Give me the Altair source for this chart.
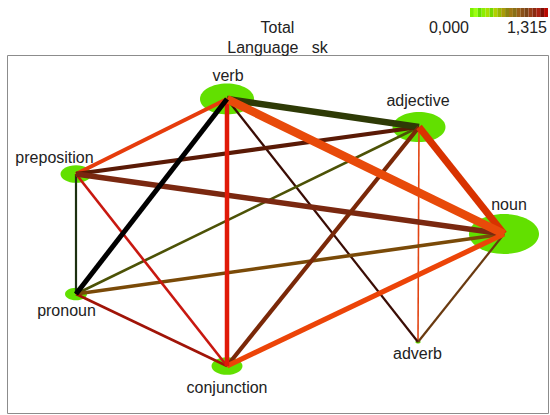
import altair as alt
import pandas as pd

FONT = "Liberation Sans"
TEXT = "#222222"
NODE_GREEN = "#62e000"

# Word classes and their layout positions inside the frame (x right, y down)
nodes = ["verb", "adjective", "noun", "preposition", "pronoun", "conjunction", "adverb"]
node_x = [220, 412, 497, 69, 69, 220, 411]
node_y = [44, 72, 179, 119, 239, 311, 287]
# relative frequency of each word class (drives ellipse size)
node_freq = [0.595, 0.573, 1.0, 0.196, 0.099, 0.196, 0.006]
# label anchor points (baseline) for each word class
label_x = [221, 411, 502, 47.5, 59.5, 220, 410.5]
label_y = [26, 51, 155, 108, 261, 338, 304]

# Co-occurrence links between word classes
edge_src = ["adjective", "verb", "noun", "verb", "adjective", "noun", "preposition",
            "pronoun", "preposition", "adjective", "noun", "verb", "adjective",
            "noun", "verb", "adjective", "verb", "verb"]
edge_dst = ["adverb", "adverb", "adverb", "preposition", "pronoun", "pronoun", "pronoun",
            "conjunction", "conjunction", "preposition", "preposition", "adjective",
            "conjunction", "conjunction", "conjunction", "noun", "noun", "pronoun"]
edge_strength = [1.6, 2.2, 2.2, 4.0, 2.6, 3.6, 2.2,
                 2.6, 2.6, 4.2, 5.5, 6.5,
                 4.2, 5.2, 4.5, 7.0, 8.5, 5.0]
edge_color = ["#e24412", "#3a0c04", "#6a3a10", "#e63c0c", "#4c5206", "#7a4a08", "#1c3010",
              "#a01408", "#c81810", "#5a1a06", "#7a2810", "#2e3a06",
              "#7a2808", "#ec4408", "#e01a08", "#d83200", "#e84a0a", "#000000"]

# stepped colour ramp of the value legend, low to high
legend_min, legend_max = 0.0, 1.315
ramp_colors = ["#7cf000", "#9cff10", "#66e000", "#8cee00", "#a8e000", "#74d800",
               "#b0d000", "#98b800", "#a89c08", "#8c8410", "#a07814", "#887018",
               "#9a6018", "#8a5018", "#7a4418", "#983c14", "#8a2a10", "#a82010",
               "#7c1006", "#b80800"]

pos = {n: (x, y) for n, x, y in zip(nodes, node_x, node_y)}
node_df = pd.DataFrame({"node": nodes, "x": node_x, "y": node_y, "freq": node_freq,
                        "lx": label_x, "ly": label_y})
edge_df = pd.DataFrame({
    "src": edge_src, "dst": edge_dst,
    "x": [pos[s][0] for s in edge_src], "y": [pos[s][1] for s in edge_src],
    "x2": [pos[d][0] for d in edge_dst], "y2": [pos[d][1] for d in edge_dst],
    "strength": edge_strength, "color": edge_color,
})
n_steps = len(ramp_colors)
step = (legend_max - legend_min) / n_steps
ramp_df = pd.DataFrame({
    "v0": [legend_min + i * step for i in range(n_steps)],
    "v1": [legend_min + (i + 1) * step for i in range(n_steps)],
    "color": ramp_colors,
    "b0": 0.0, "b1": 1.0,
})
ramp_label_df = pd.DataFrame({
    "v": [legend_min, legend_max],
    "label": [f"{legend_min:.3f}".replace(".", ","), f"{legend_max:.3f}".replace(".", ",")],
    "b": 1.0,
})

W, H = 541, 358
xs = alt.Scale(domain=[0, W], nice=False, zero=False)
ys = alt.Scale(domain=[0, H], nice=False, zero=False, reverse=True)
# legend strip sits above the frame, to the right
lxs = alt.Scale(domain=[legend_min, legend_max], range=[463, 541], nice=False, zero=False)
lys = alt.Scale(domain=[0, 1], range=[-47, -38], nice=False, zero=False)

ELLIPSE = "M -1 0 A 1 0.57 0 1 0 1 0 A 1 0.57 0 1 0 -1 0 Z"

node_layer = alt.Chart(node_df).mark_point(
    shape=ELLIPSE, filled=True, opacity=1, strokeWidth=0, fill=NODE_GREEN
).encode(
    x=alt.X("x:Q", scale=xs, axis=None),
    y=alt.Y("y:Q", scale=ys, axis=None),
    size=alt.Size("freq:Q", scale=alt.Scale(domain=[0, 1], range=[0, 4900]), legend=None),
)

edge_layer = alt.Chart(edge_df).mark_rule().encode(
    x=alt.X("x:Q", scale=xs, axis=None),
    y=alt.Y("y:Q", scale=ys, axis=None),
    x2="x2:Q",
    y2="y2:Q",
    stroke=alt.Stroke("color:N", scale=None),
    strokeWidth=alt.StrokeWidth("strength:Q", scale=alt.Scale(domain=[0, 10], range=[0, 10]),
                                legend=None),
)

label_layer = alt.Chart(node_df).mark_text(
    font=FONT, fontSize=16, color=TEXT, align="center", baseline="alphabetic"
).encode(
    x=alt.X("lx:Q", scale=xs, axis=None),
    y=alt.Y("ly:Q", scale=ys, axis=None),
    text="node:N",
)

ramp_layer = alt.Chart(ramp_df).mark_rect(strokeWidth=0).encode(
    x=alt.X("v0:Q", scale=lxs, axis=None),
    x2="v1:Q",
    y=alt.Y("b0:Q", scale=lys, axis=None),
    y2="b1:Q",
    fill=alt.Fill("color:N", scale=None),
)

ramp_text = alt.Chart(ramp_label_df).mark_text(
    font=FONT, fontSize=16, color=TEXT, align="right", baseline="top", dx=-1, dy=3
).encode(
    x=alt.X("v:Q", scale=lxs, axis=None),
    y=alt.Y("b:Q", scale=lys, axis=None),
    text="label:N",
)

chart = alt.layer(
    node_layer, edge_layer, label_layer, ramp_layer, ramp_text
).resolve_scale(
    x="independent", y="independent"
).properties(
    width=W,
    height=H,
    title=alt.TitleParams(
        text="Total",
        subtitle="Language\u00a0\u00a0\u00a0sk",
        font=FONT, fontSize=16, fontWeight="normal", color=TEXT,
        subtitleFont=FONT, subtitleFontSize=16, subtitleColor=TEXT,
        anchor="middle", frame="group", offset=-48, subtitlePadding=4,
    ),
    autosize=alt.AutoSizeParams(type="none"),
    padding={"left": 7, "top": 55, "right": 2, "bottom": 2},
    background="white",
).configure_view(
    stroke="#8c8c8c", strokeWidth=1
)

chart.save("out.html", embed_options={"renderer": "svg", "actions": False})
